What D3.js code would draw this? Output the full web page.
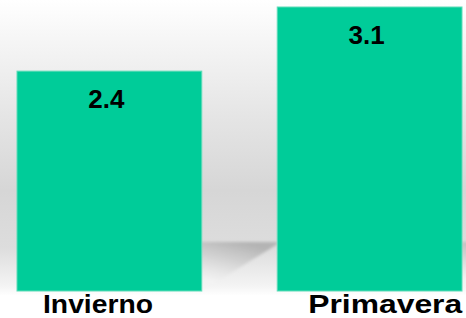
<!DOCTYPE html>
<html>
<head>
<meta charset="utf-8">
<script src="https://cdn.jsdelivr.net/npm/d3@7"></script>
<style>
  html, body { margin: 0; padding: 0; background: #fff; }
  svg { display: block; }
  .val, .cat { font-family: "Liberation Sans", Arial, sans-serif; font-weight: bold; fill: #000; }
</style>
</head>
<body>
<div id="chart"></div>
<script>
// datos
var categories = ['Invierno', 'Primavera'];
var values = [2.4, 3.1];

var width = 466,
    height = 318;

var svg = d3.select('#chart').append('svg')
    .attr('width', width)
    .attr('height', height);

var defs = svg.append('defs');

// fondo tipo pared 3d
var wall = defs.append('linearGradient')
    .attr('id', 'wall')
    .attr('x1', 0).attr('y1', 0).attr('x2', 0).attr('y2', 1);
[[0, '#ffffff'], [0.12, '#f6f6f6'], [0.35, '#e6e6e6'], [0.6, '#d6d6d6'],
 [0.78, '#dddddd'], [0.9, '#f4f4f4'], [0.93, '#ffffff'], [1, '#ffffff']].forEach(function(s) {
    wall.append('stop').attr('offset', s[0]).attr('stop-color', s[1]);
});

var shade = defs.append('linearGradient')
    .attr('id', 'shade')
    .attr('x1', 0.5).attr('y1', 0).attr('x2', 0.2).attr('y2', 0.8);
shade.append('stop').attr('offset', 0).attr('stop-color', '#b4b4b4').attr('stop-opacity', 1);
shade.append('stop').attr('offset', 0.45).attr('stop-color', '#d0d0d0').attr('stop-opacity', 0.9);
shade.append('stop').attr('offset', 1).attr('stop-color', '#f4f4f4').attr('stop-opacity', 0.6);

defs.append('filter').attr('id', 'blur')
    .attr('x', '-20%').attr('y', '-20%').attr('width', '140%').attr('height', '140%')
  .append('feGaussianBlur').attr('stdDeviation', 1.5);

svg.append('rect')
    .attr('width', width)
    .attr('height', height)
    .attr('fill', 'url(#wall)');

var x = d3.scaleBand()
    .domain(categories)
    .range([17, 462])
    .paddingInner(0.29)
    .paddingOuter(0);

var y = d3.scaleLinear()
    .domain([0, 3.1])
    .range([291, 7]);

var data = categories.map(function(c, i) { return {cat: c, value: values[i]}; });

// sombras proyectadas hacia la derecha
svg.append('g').attr('class', 'shadows')
    .selectAll('path')
    .data(data)
    .enter().append('path')
    .attr('filter', 'url(#blur)')
    .attr('fill', 'url(#shade)')
    .attr('d', function(d) {
        var x0 = x(d.cat) + x.bandwidth() - 2;
        var top = y(0) - 49;
        return 'M' + x0 + ',' + top + 'L' + (x0 + 78) + ',' + top +
            'L' + (x0 + 78) + ',' + (top + 2) + 'L' + x0 + ',' + (y(0) + 1) + 'Z';
    });

svg.append('g').attr('class', 'bars')
    .selectAll('rect')
    .data(data)
    .enter().append('rect')
    .attr('x', function(d) { return x(d.cat); })
    .attr('y', function(d) { return y(d.value); })
    .attr('width', x.bandwidth())
    .attr('height', function(d) { return y(0) - y(d.value); })
    .attr('fill', '#00cc99')
    .attr('stroke', '#5fdcb8')
    .attr('stroke-width', 1);

svg.append('g').attr('class', 'vals')
    .selectAll('text')
    .data(data)
    .enter().append('text')
    .attr('class', 'val')
    .attr('x', function(d) { return x(d.cat) + x.bandwidth() / 2 - 3; })
    .attr('y', function(d) { return y(d.value) + 37; })
    .attr('text-anchor', 'middle')
    .style('font-size', '26px')
    .text(function(d) { return d3.format('.1f')(d.value); });

// anchos de etiqueta
var labelFit = {Invierno: [26, 110], Primavera: [31, 154]};

svg.append('g').attr('class', 'cats')
    .selectAll('text')
    .data(data)
    .enter().append('text')
    .attr('class', 'cat')
    .attr('x', function(d) { return x(d.cat) + labelFit[d.cat][0]; })
    .attr('y', 313)
    .attr('textLength', function(d) { return labelFit[d.cat][1]; })
    .attr('lengthAdjust', 'spacingAndGlyphs')
    .style('font-size', '26px')
    .text(function(d) { return d.cat; });
</script>
</body>
</html>
